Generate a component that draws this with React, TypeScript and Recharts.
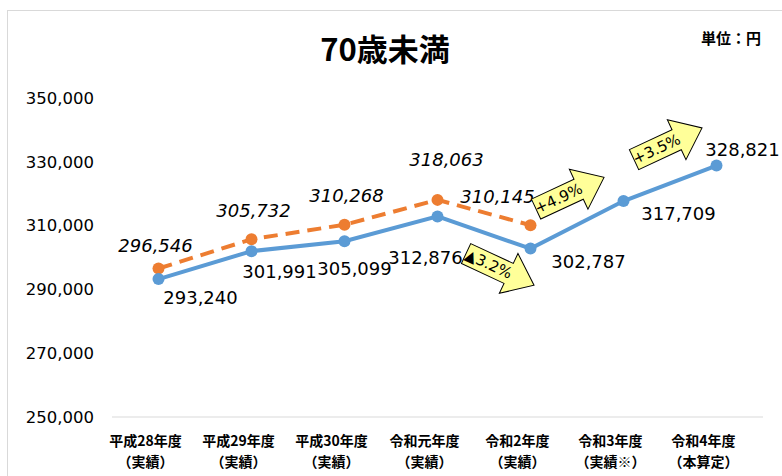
import { LineChart, Line, XAxis, YAxis, LabelList } from "recharts";

const categories = [
  ["平成28年度", "（実績）"],
  ["平成29年度", "（実績）"],
  ["平成30年度", "（実績）"],
  ["令和元年度", "（実績）"],
  ["令和2年度", "（実績）"],
  ["令和3年度", "（実績※）"],
  ["令和4年度", "（本算定）"],
];
const actual = [293240, 301991, 305099, 312876, 302787, 317709, 328821];
const previous = [296546, 305732, 310268, 318063, 310145];
const yTicks = [250000, 270000, 290000, 310000, 330000, 350000];
const changes = [
  { index: 4, text: "▲3.2%" },
  { index: 5, text: "+4.9%" },
  { index: 6, text: "+3.5%" },
];

const data = categories.map((c, i) => ({
  name: c[0],
  sub: c[1],
  actual: actual[i],
  previous: i < previous.length ? previous[i] : null,
}));

// label placement relative to each point
const actualOffsets = [
  [42, 18], [28, 20], [10, 27], [-12, 41], [58, 13], [55, 12], [26, -16],
];
const previousOffsets = [[-3, -23], [2, -29], [2, -29], [9, -40], [-33, -29]];
const arrowPlacement: Record<number, [number, number, number]> = {
  4: [-30, 21, 25],
  5: [-53, -8, -25],
  6: [-48, -22, -25],
};

const numFont = "'DejaVu Sans', sans-serif";
const jpFont = "'Noto Sans CJK JP', sans-serif";
const fmt = (v: number) => v.toLocaleString("en-US");

const XTick = (props: any) => {
  const { x, payload } = props;
  const row = data[payload.index] ?? data.find((d) => d.name === payload.value);
  const style = { fontFamily: jpFont, fontWeight: 700, fontSize: 14 };
  return (
    <g>
      <text x={x - 13} y={440} textAnchor="middle" dominantBaseline="central" style={style} fill="#000">
        {payload.value}
      </text>
      <text x={x - 13} y={461} textAnchor="middle" dominantBaseline="central" style={style} fill="#000">
        {row?.sub}
      </text>
    </g>
  );
};

const makeLabel = (offsets: number[][], italic: boolean) => (props: any) => {
  const { x, y, value, index } = props;
  if (value == null || x == null) return null;
  const [dx, dy] = offsets[index] ?? [0, 0];
  return (
    <text x={x + dx} y={y + dy} textAnchor="middle" dominantBaseline="central" fontFamily={numFont} fontSize={18} fontStyle={italic ? "italic" : "normal"} fill="#000">
      {fmt(value)}
    </text>
  );
};

const ArrowLabel = (props: any) => {
  const { x, y, index } = props;
  const change = changes.find((c) => c.index === index);
  const place = arrowPlacement[index];
  if (!change || !place) return null;
  const [dx, dy, angle] = place;
  return (
    <g transform={`translate(${x + dx},${y + dy}) rotate(${angle})`}>
      <path d="M-38,-11 L9,-11 L9,-22 L37,0 L9,22 L9,11 L-38,11 Z" fill="#FFFF99" stroke="#000" strokeWidth={1} />
      <text x={-13} y={0} textAnchor="middle" dominantBaseline="central" fontFamily={numFont} fontSize={15} fill="#000">
        {change.text}
      </text>
    </g>
  );
};

export default function App() {
  return (
    <div style={{ position: "fixed", left: 0, top: 0, width: 782, height: 476, background: "#fff", overflow: "hidden" }}>
      <div style={{ position: "absolute", left: 7, top: 10, width: 800, height: 500, border: "1px solid #d9d9d9" }} />
      <div style={{ position: "absolute", left: 0, width: 770, top: 28, textAlign: "center", fontFamily: jpFont, fontWeight: 700, fontSize: 31, lineHeight: "40px" }}>
        70歳未満
      </div>
      <div style={{ position: "absolute", left: 701, top: 28, fontFamily: jpFont, fontWeight: 700, fontSize: 15, lineHeight: "20px" }}>
        単位：円
      </div>
      <div style={{ position: "absolute", left: 0, top: 0 }}>
        <LineChart width={782} height={476} data={data} margin={{ top: 98, right: 19, bottom: 0, left: 0 }}>
          <XAxis
            dataKey="name"
            height={59}
            padding={{ left: 46.5, right: 46.5 }}
            tick={<XTick />}
            tickLine={false}
            tickSize={0}
            tickMargin={0}
            axisLine={{ stroke: "#d9d9d9", strokeWidth: 1 }}
            interval={0}
          />
          <YAxis
            width={112}
            domain={[250000, 350000]}
            ticks={yTicks}
            tickFormatter={fmt}
            axisLine={false}
            tickLine={false}
            tickSize={0}
            tickMargin={18}
            tick={{ fontFamily: numFont, fontSize: 16.5, fill: "#000" }}
          />
          <Line
            dataKey="previous"
            stroke="#ED7D31"
            strokeWidth={4}
            strokeDasharray="14 8"
            dot={{ r: 6, fill: "#ED7D31", stroke: "#ED7D31", strokeWidth: 0 }}
            isAnimationActive={false}
            connectNulls={false}
          >
            <LabelList dataKey="previous" content={makeLabel(previousOffsets, true)} />
          </Line>
          <Line
            dataKey="actual"
            stroke="#5B9BD5"
            strokeWidth={4}
            dot={{ r: 6, fill: "#5B9BD5", stroke: "#5B9BD5", strokeWidth: 0 }}
            isAnimationActive={false}
          >
            <LabelList dataKey="actual" content={makeLabel(actualOffsets, false)} />
            <LabelList dataKey="actual" content={ArrowLabel} />
          </Line>
        </LineChart>
      </div>
    </div>
  );
}
